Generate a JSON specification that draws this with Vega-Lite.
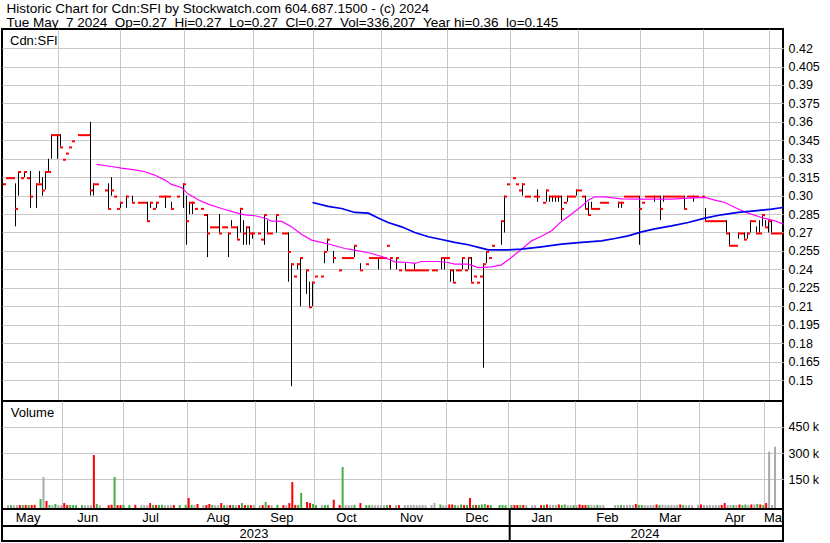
{
"$schema": "https://vega.github.io/schema/vega-lite/v6.json",
"padding": {"left": 1, "top": 2, "right": 0, "bottom": 0},
"background": "white",
"bounds": "flush",
"title": {"text": ["Historic Chart for Cdn:SFI by Stockwatch.com 604.687.1500 - (c) 2024", "Tue May \u00a07 2024 \u00a0Op=0.27 \u00a0Hi=0.27 \u00a0Lo=0.27 \u00a0Cl=0.27 \u00a0Vol=336,207 \u00a0Year hi=0.36 \u00a0lo=0.145"], "anchor": "start", "frame": "group", "font": "Liberation Sans", "fontSize": 13.5, "fontWeight": "normal", "color": "#000", "lineHeight": 14.4, "offset": -2, "dx": 4.5},
"spacing": 0,
"config": {
  "view": {"stroke": "#000", "strokeWidth": 2},
  "axis": {"labelFont": "Liberation Sans", "labelFontSize": 12.5, "labelColor": "#000", "gridColor": "#c8c8c8", "gridOpacity": 1, "gridWidth": 1, "ticks": false, "domain": false, "labelOverlap": false},
  "text": {"font": "Liberation Sans", "fontSize": 13, "color": "#000"}
},
"datasets": {
"days": [
{"i":0,"c":0.31,"v":1500,"d":"flat"},
{"i":1,"c":0.315,"v":2500,"d":"up"},
{"i":2,"c":0.315,"v":1500,"d":"flat"},
{"i":3,"c":0.315,"v":1500,"d":"flat"},
{"i":4,"c":0.29,"h":0.31,"l":0.275,"v":2500,"d":"down"},
{"i":5,"c":0.32,"h":0.32,"l":0.30,"v":2500,"d":"up"},
{"i":6,"c":0.315,"v":2500,"d":"down"},
{"i":7,"c":0.32,"h":0.32,"l":0.315,"v":2500,"d":"up"},
{"i":8,"c":0.315,"v":2500,"d":"down"},
{"i":9,"c":0.30,"h":0.32,"l":0.29,"v":4000,"d":"down"},
{"i":11,"c":0.31,"h":0.31,"l":0.29,"v":37000,"d":"up"},
{"i":12,"c":0.31,"h":0.32,"l":0.31,"v":163000,"d":"flat"},
{"i":13,"c":0.305,"h":0.315,"l":0.30,"v":26000,"d":"down"},
{"i":14,"c":0.32,"h":0.32,"l":0.305,"v":3000,"d":"up"},
{"i":15,"c":0.32,"h":0.33,"l":0.32,"v":3000,"d":"flat"},
{"i":16,"c":0.35,"h":0.35,"l":0.33,"v":8600,"d":"up"},
{"i":17,"c":0.35,"v":1500,"d":"flat"},
{"i":18,"c":0.35,"h":0.35,"l":0.33,"v":1500,"d":"flat"},
{"i":19,"c":0.34,"h":0.35,"l":0.34,"v":14000,"d":"down"},
{"i":20,"c":0.33,"v":3000,"d":"down"},
{"i":21,"c":0.335,"v":2500,"d":"up"},
{"i":22,"c":0.34,"v":2500,"d":"up"},
{"i":23,"c":0.345,"v":2500,"d":"up"},
{"i":25,"c":0.35,"v":2500,"d":"up"},
{"i":26,"c":0.35,"v":1500,"d":"flat"},
{"i":27,"c":0.35,"v":1500,"d":"flat"},
{"i":28,"c":0.35,"v":1500,"d":"flat"},
{"i":29,"c":0.305,"h":0.36,"l":0.30,"v":289000,"d":"down"},
{"i":30,"c":0.31,"h":0.31,"l":0.30,"v":9000,"d":"up"},
{"i":31,"c":0.31,"v":1500,"d":"flat"},
{"i":34,"c":0.305,"v":2500,"d":"down"},
{"i":35,"c":0.29,"h":0.31,"l":0.29,"v":4000,"d":"down"},
{"i":36,"c":0.305,"h":0.315,"l":0.30,"v":163000,"d":"up"},
{"i":37,"c":0.30,"v":2500,"d":"down"},
{"i":38,"c":0.29,"v":2500,"d":"down"},
{"i":39,"c":0.295,"h":0.295,"l":0.29,"v":4000,"d":"up"},
{"i":41,"c":0.30,"h":0.30,"l":0.29,"v":2500,"d":"up"},
{"i":43,"c":0.295,"h":0.30,"l":0.295,"v":4000,"d":"down"},
{"i":45,"c":0.295,"v":1500,"d":"flat"},
{"i":46,"c":0.295,"v":1500,"d":"flat"},
{"i":47,"c":0.295,"v":1500,"d":"flat"},
{"i":48,"c":0.28,"h":0.295,"l":0.28,"v":14000,"d":"down"},
{"i":49,"c":0.295,"h":0.295,"l":0.29,"v":3000,"d":"up"},
{"i":50,"c":0.29,"v":2500,"d":"down"},
{"i":51,"c":0.295,"h":0.295,"l":0.29,"v":3000,"d":"up"},
{"i":52,"c":0.30,"v":4000,"d":"up"},
{"i":53,"c":0.30,"v":1500,"d":"flat"},
{"i":54,"c":0.30,"h":0.30,"l":0.29,"v":1500,"d":"flat"},
{"i":55,"c":0.30,"v":1500,"d":"flat"},
{"i":56,"c":0.29,"h":0.295,"l":0.29,"v":2500,"d":"down"},
{"i":58,"c":0.30,"v":2500,"d":"up"},
{"i":60,"c":0.31,"h":0.31,"l":0.29,"v":4000,"d":"up"},
{"i":61,"c":0.28,"h":0.30,"l":0.26,"v":43000,"d":"down"},
{"i":62,"c":0.295,"h":0.295,"l":0.285,"v":4000,"d":"up"},
{"i":63,"c":0.295,"h":0.295,"l":0.285,"v":1500,"d":"flat"},
{"i":64,"c":0.29,"v":9000,"d":"down"},
{"i":66,"c":0.29,"v":1500,"d":"flat"},
{"i":67,"c":0.285,"v":3000,"d":"down"},
{"i":68,"c":0.27,"h":0.285,"l":0.25,"v":9000,"d":"down"},
{"i":69,"c":0.275,"v":3000,"d":"up"},
{"i":70,"c":0.275,"v":1500,"d":"flat"},
{"i":71,"c":0.275,"v":1500,"d":"flat"},
{"i":72,"c":0.27,"h":0.285,"l":0.27,"v":14000,"d":"down"},
{"i":73,"c":0.275,"v":2500,"d":"up"},
{"i":74,"c":0.275,"v":1500,"d":"flat"},
{"i":75,"c":0.27,"h":0.27,"l":0.25,"v":3000,"d":"down"},
{"i":76,"c":0.275,"h":0.28,"l":0.275,"v":2500,"d":"up"},
{"i":77,"c":0.275,"v":1500,"d":"flat"},
{"i":78,"c":0.265,"h":0.275,"l":0.265,"v":2500,"d":"down"},
{"i":79,"c":0.29,"h":0.29,"l":0.27,"v":14000,"d":"up"},
{"i":80,"c":0.27,"h":0.28,"l":0.26,"v":3000,"d":"down"},
{"i":81,"c":0.275,"h":0.275,"l":0.26,"v":2500,"d":"up"},
{"i":82,"c":0.27,"h":0.275,"l":0.26,"v":2500,"d":"down"},
{"i":83,"c":0.27,"h":0.27,"l":0.265,"v":4000,"d":"flat"},
{"i":85,"c":0.27,"v":1500,"d":"flat"},
{"i":86,"c":0.265,"v":2500,"d":"down"},
{"i":87,"c":0.285,"h":0.285,"l":0.26,"v":20000,"d":"up"},
{"i":88,"c":0.27,"h":0.28,"l":0.27,"v":3000,"d":"down"},
{"i":89,"c":0.27,"v":1500,"d":"flat"},
{"i":91,"c":0.285,"h":0.285,"l":0.27,"v":4000,"d":"up"},
{"i":93,"c":0.27,"v":2500,"d":"down"},
{"i":94,"c":0.27,"v":1500,"d":"flat"},
{"i":95,"c":0.255,"h":0.27,"l":0.23,"v":14000,"d":"down"},
{"i":96,"c":0.245,"h":0.245,"l":0.145,"v":134000,"d":"down"},
{"i":97,"c":0.235,"v":3000,"d":"down"},
{"i":98,"c":0.245,"h":0.245,"l":0.24,"v":3000,"d":"up"},
{"i":99,"c":0.25,"h":0.25,"l":0.21,"v":72000,"d":"up"},
{"i":101,"c":0.24,"h":0.24,"l":0.22,"v":20000,"d":"down"},
{"i":102,"c":0.21,"h":0.23,"l":0.21,"v":14000,"d":"down"},
{"i":103,"c":0.23,"h":0.23,"l":0.21,"v":9000,"d":"up"},
{"i":104,"c":0.235,"v":2500,"d":"up"},
{"i":106,"c":0.235,"v":1500,"d":"flat"},
{"i":107,"c":0.255,"h":0.255,"l":0.245,"v":3000,"d":"up"},
{"i":108,"c":0.265,"h":0.265,"l":0.255,"v":3000,"d":"up"},
{"i":110,"c":0.25,"h":0.255,"l":0.245,"v":33000,"d":"down"},
{"i":112,"c":0.24,"v":3000,"d":"down"},
{"i":113,"c":0.25,"v":220000,"d":"up"},
{"i":114,"c":0.25,"v":1500,"d":"flat"},
{"i":115,"c":0.25,"v":1500,"d":"flat"},
{"i":116,"c":0.25,"v":1500,"d":"flat"},
{"i":117,"c":0.26,"h":0.26,"l":0.25,"v":4000,"d":"up"},
{"i":119,"c":0.24,"h":0.245,"l":0.24,"v":14000,"d":"down"},
{"i":121,"c":0.245,"v":2500,"d":"up"},
{"i":122,"c":0.25,"v":2500,"d":"up"},
{"i":123,"c":0.25,"v":1500,"d":"flat"},
{"i":124,"c":0.25,"v":1500,"d":"flat"},
{"i":125,"c":0.25,"h":0.25,"l":0.24,"v":1500,"d":"flat"},
{"i":126,"c":0.25,"v":1500,"d":"flat"},
{"i":127,"c":0.25,"v":1500,"d":"flat"},
{"i":128,"c":0.26,"v":2500,"d":"up"},
{"i":129,"c":0.25,"h":0.25,"l":0.24,"v":3000,"d":"down"},
{"i":131,"c":0.25,"h":0.25,"l":0.24,"v":3000,"d":"flat"},
{"i":132,"c":0.24,"v":2500,"d":"down"},
{"i":134,"c":0.24,"h":0.245,"l":0.24,"v":3000,"d":"flat"},
{"i":135,"c":0.24,"v":3000,"d":"flat"},
{"i":136,"c":0.24,"v":3000,"d":"flat"},
{"i":137,"c":0.24,"h":0.245,"l":0.24,"v":3000,"d":"flat"},
{"i":138,"c":0.24,"v":1500,"d":"flat"},
{"i":139,"c":0.24,"v":1500,"d":"flat"},
{"i":140,"c":0.24,"v":3000,"d":"flat"},
{"i":141,"c":0.24,"v":1500,"d":"flat"},
{"i":143,"c":0.24,"v":3000,"d":"flat"},
{"i":144,"c":0.24,"v":14000,"d":"flat"},
{"i":146,"c":0.25,"h":0.25,"l":0.24,"v":6000,"d":"up"},
{"i":147,"c":0.25,"h":0.25,"l":0.24,"v":1500,"d":"flat"},
{"i":148,"c":0.25,"v":1500,"d":"flat"},
{"i":149,"c":0.24,"h":0.24,"l":0.23,"v":6000,"d":"down"},
{"i":150,"c":0.23,"h":0.24,"l":0.23,"v":6000,"d":"down"},
{"i":151,"c":0.24,"v":3000,"d":"up"},
{"i":152,"c":0.24,"v":1500,"d":"flat"},
{"i":153,"c":0.25,"h":0.25,"l":0.24,"v":6000,"d":"up"},
{"i":154,"c":0.24,"v":3000,"d":"down"},
{"i":155,"c":0.25,"h":0.25,"l":0.24,"v":3000,"d":"up"},
{"i":156,"c":0.23,"h":0.25,"l":0.23,"v":43000,"d":"down"},
{"i":157,"c":0.235,"v":3000,"d":"up"},
{"i":158,"c":0.23,"v":2500,"d":"down"},
{"i":159,"c":0.235,"v":3000,"d":"up"},
{"i":160,"c":0.245,"h":0.245,"l":0.16,"v":6000,"d":"up"},
{"i":161,"c":0.255,"h":0.255,"l":0.245,"v":9000,"d":"up"},
{"i":162,"c":0.25,"v":3000,"d":"down"},
{"i":163,"c":0.26,"v":2500,"d":"up"},
{"i":166,"c":0.28,"h":0.28,"l":0.26,"v":3000,"d":"up"},
{"i":167,"c":0.30,"h":0.30,"l":0.27,"v":3000,"d":"up"},
{"i":168,"c":0.31,"v":2500,"d":"up"},
{"i":170,"c":0.315,"v":2500,"d":"up"},
{"i":171,"c":0.31,"v":3000,"d":"down"},
{"i":172,"c":0.305,"v":3000,"d":"down"},
{"i":173,"c":0.31,"h":0.31,"l":0.30,"v":2500,"d":"up"},
{"i":174,"c":0.30,"v":3000,"d":"down"},
{"i":175,"c":0.30,"v":1500,"d":"flat"},
{"i":177,"c":0.30,"v":1500,"d":"flat"},
{"i":178,"c":0.30,"h":0.305,"l":0.295,"v":3000,"d":"flat"},
{"i":180,"c":0.295,"v":2500,"d":"down"},
{"i":181,"c":0.305,"h":0.305,"l":0.295,"v":3000,"d":"up"},
{"i":182,"c":0.30,"h":0.30,"l":0.295,"v":6000,"d":"down"},
{"i":183,"c":0.30,"h":0.30,"l":0.295,"v":3000,"d":"flat"},
{"i":184,"c":0.30,"h":0.30,"l":0.295,"v":3000,"d":"flat"},
{"i":185,"c":0.30,"h":0.30,"l":0.295,"v":3000,"d":"flat"},
{"i":186,"c":0.29,"h":0.30,"l":0.28,"v":6000,"d":"down"},
{"i":187,"c":0.295,"v":3000,"d":"up"},
{"i":188,"c":0.30,"h":0.30,"l":0.295,"v":6000,"d":"up"},
{"i":189,"c":0.30,"v":1500,"d":"flat"},
{"i":190,"c":0.30,"v":1500,"d":"flat"},
{"i":191,"c":0.305,"h":0.305,"l":0.30,"v":3000,"d":"up"},
{"i":192,"c":0.305,"v":1500,"d":"flat"},
{"i":193,"c":0.30,"v":6000,"d":"down"},
{"i":194,"c":0.29,"h":0.30,"l":0.29,"v":3000,"d":"down"},
{"i":195,"c":0.285,"h":0.295,"l":0.285,"v":3000,"d":"down"},
{"i":196,"c":0.29,"h":0.295,"l":0.29,"v":3000,"d":"up"},
{"i":197,"c":0.29,"v":1500,"d":"flat"},
{"i":198,"c":0.29,"v":1500,"d":"flat"},
{"i":199,"c":0.295,"v":3000,"d":"up"},
{"i":200,"c":0.295,"v":1500,"d":"flat"},
{"i":201,"c":0.295,"v":1500,"d":"flat"},
{"i":205,"c":0.295,"h":0.295,"l":0.29,"v":3000,"d":"flat"},
{"i":206,"c":0.295,"h":0.295,"l":0.29,"v":3000,"d":"flat"},
{"i":207,"c":0.30,"v":3000,"d":"up"},
{"i":208,"c":0.30,"v":3000,"d":"flat"},
{"i":209,"c":0.30,"v":3000,"d":"flat"},
{"i":210,"c":0.30,"v":3000,"d":"flat"},
{"i":211,"c":0.30,"v":3000,"d":"flat"},
{"i":212,"c":0.29,"h":0.30,"l":0.26,"v":9000,"d":"down"},
{"i":213,"c":0.295,"v":3000,"d":"up"},
{"i":214,"c":0.30,"v":3000,"d":"up"},
{"i":215,"c":0.30,"v":3000,"d":"flat"},
{"i":216,"c":0.30,"v":1500,"d":"flat"},
{"i":217,"c":0.30,"h":0.30,"l":0.295,"v":3000,"d":"flat"},
{"i":218,"c":0.30,"v":3000,"d":"flat"},
{"i":219,"c":0.29,"h":0.30,"l":0.28,"v":6000,"d":"down"},
{"i":220,"c":0.30,"h":0.30,"l":0.295,"v":3000,"d":"up"},
{"i":221,"c":0.30,"v":3000,"d":"flat"},
{"i":222,"c":0.30,"v":1500,"d":"flat"},
{"i":223,"c":0.30,"v":3000,"d":"flat"},
{"i":224,"c":0.30,"v":3000,"d":"flat"},
{"i":225,"c":0.30,"v":1500,"d":"flat"},
{"i":226,"c":0.30,"v":3000,"d":"flat"},
{"i":227,"c":0.29,"h":0.30,"l":0.29,"v":6000,"d":"down"},
{"i":228,"c":0.30,"v":3000,"d":"up"},
{"i":229,"c":0.30,"v":1500,"d":"flat"},
{"i":230,"c":0.30,"h":0.30,"l":0.295,"v":3000,"d":"flat"},
{"i":231,"c":0.30,"v":1500,"d":"flat"},
{"i":233,"c":0.30,"v":3000,"d":"flat"},
{"i":234,"c":0.28,"h":0.29,"l":0.28,"v":6000,"d":"down"},
{"i":235,"c":0.28,"v":3000,"d":"flat"},
{"i":236,"c":0.28,"v":1500,"d":"flat"},
{"i":237,"c":0.28,"v":3000,"d":"flat"},
{"i":238,"c":0.28,"v":1500,"d":"flat"},
{"i":239,"c":0.28,"v":3000,"d":"flat"},
{"i":240,"c":0.28,"v":3000,"d":"flat"},
{"i":241,"c":0.27,"h":0.28,"l":0.27,"v":3000,"d":"down"},
{"i":242,"c":0.26,"h":0.27,"l":0.26,"v":14000,"d":"down"},
{"i":243,"c":0.26,"v":1500,"d":"flat"},
{"i":244,"c":0.26,"v":3000,"d":"flat"},
{"i":245,"c":0.27,"h":0.27,"l":0.265,"v":3000,"d":"up"},
{"i":246,"c":0.27,"v":3000,"d":"flat"},
{"i":247,"c":0.265,"h":0.27,"l":0.265,"v":6000,"d":"down"},
{"i":248,"c":0.27,"h":0.27,"l":0.265,"v":3000,"d":"up"},
{"i":249,"c":0.28,"h":0.28,"l":0.27,"v":6000,"d":"up"},
{"i":250,"c":0.28,"v":3000,"d":"flat"},
{"i":251,"c":0.27,"h":0.275,"l":0.27,"v":6000,"d":"down"},
{"i":252,"c":0.27,"h":0.28,"l":0.27,"v":6000,"d":"flat"},
{"i":253,"c":0.285,"h":0.285,"l":0.275,"v":9000,"d":"up"},
{"i":254,"c":0.275,"h":0.28,"l":0.275,"v":6000,"d":"down"},
{"i":255,"c":0.28,"h":0.28,"l":0.27,"v":3000,"d":"up"},
{"i":256,"c":0.27,"h":0.28,"l":0.27,"v":14000,"d":"down"},
{"i":257,"c":0.27,"v":308000,"d":"flat"},
{"i":258,"c":0.27,"v":3000,"d":"flat"},
{"i":259,"c":0.27,"v":336207,"d":"flat"}
],
"ma1": [
{"i":31,"p":0.3254},{"i":36,"p":0.3237},{"i":39.3,"p":0.3224},{"i":43.8,"p":0.321},{"i":47.1,"p":0.3194},{"i":50.4,"p":0.3167},{"i":53.8,"p":0.3126},{"i":56,"p":0.3091},{"i":59.3,"p":0.3066},{"i":61.6,"p":0.3012},{"i":64.9,"p":0.2966},{"i":68.2,"p":0.2931},{"i":72.7,"p":0.2895},{"i":77.1,"p":0.2863},{"i":80.4,"p":0.2844},{"i":83.8,"p":0.2836},{"i":87.7,"p":0.2814},{"i":89.3,"p":0.2792},{"i":92.7,"p":0.279},{"i":96,"p":0.2746},{"i":99.3,"p":0.2686},{"i":102.7,"p":0.2638},{"i":106,"p":0.2619},{"i":109.3,"p":0.26},{"i":113.8,"p":0.257},{"i":117.1,"p":0.2556},{"i":122.7,"p":0.2529},{"i":127.1,"p":0.2497},{"i":130.4,"p":0.2461},{"i":134.9,"p":0.2456},{"i":137.1,"p":0.2448},{"i":139.3,"p":0.2464},{"i":144.9,"p":0.2464},{"i":148.2,"p":0.2456},{"i":150.4,"p":0.2442},{"i":154.9,"p":0.2442},{"i":158.2,"p":0.2415},{"i":162.7,"p":0.2421},{"i":166,"p":0.2437},{"i":169.3,"p":0.2497},{"i":172.7,"p":0.2564},{"i":176,"p":0.2632},{"i":179.3,"p":0.267},{"i":182.7,"p":0.2714},{"i":186,"p":0.279},{"i":189.3,"p":0.2849},{"i":192.7,"p":0.2914},{"i":194.9,"p":0.2963},{"i":197.1,"p":0.299},{"i":200.4,"p":0.299},{"i":206,"p":0.2974},{"i":211.6,"p":0.2971},{"i":217.1,"p":0.2971},{"i":222.7,"p":0.2971},{"i":228.2,"p":0.298},{"i":233.8,"p":0.2985},{"i":237.1,"p":0.2963},{"i":240.4,"p":0.2944},{"i":243.8,"p":0.2903},{"i":248.2,"p":0.2857},{"i":252.7,"p":0.2822},{"i":257.1,"p":0.2795},{"i":259.9,"p":0.2768}
],
"ma2": [
{"i":103,"p":0.2944},{"i":108.2,"p":0.2912},{"i":112.7,"p":0.2895},{"i":117.1,"p":0.2863},{"i":121.6,"p":0.2857},{"i":124.9,"p":0.2817},{"i":128.2,"p":0.2781},{"i":132.7,"p":0.2746},{"i":137.1,"p":0.27},{"i":141.6,"p":0.2665},{"i":146,"p":0.2643},{"i":150.4,"p":0.2619},{"i":154.9,"p":0.26},{"i":159.3,"p":0.2573},{"i":161.6,"p":0.2559},{"i":168.2,"p":0.2559},{"i":172.7,"p":0.2564},{"i":179.3,"p":0.2583},{"i":186,"p":0.2605},{"i":192.7,"p":0.2619},{"i":199.3,"p":0.2632},{"i":203.8,"p":0.2651},{"i":208.2,"p":0.2673},{"i":212.7,"p":0.2705},{"i":217.1,"p":0.273},{"i":222.7,"p":0.2754},{"i":228.2,"p":0.2781},{"i":233.8,"p":0.2817},{"i":239.3,"p":0.2844},{"i":244.9,"p":0.2863},{"i":250.4,"p":0.2876},{"i":256,"p":0.289},{"i":259.8,"p":0.2903}
],
"months": [
{"m":"May","c":8.2},{"m":"Jun","c":28.1},{"m":"Jul","c":49},{"m":"Aug","c":71.6},{"m":"Sep","c":92.8},{"m":"Oct","c":114.3},{"m":"Nov","c":136},{"m":"Dec","c":157.8},{"m":"Jan","c":179.5},{"m":"Feb","c":201.3},{"m":"Mar","c":222.2},{"m":"Apr","c":243.8},{"m":"May","c":257.6}
],
"years": [{"y":"2023","c":83.5},{"y":"2024","c":213.8}]
},
"vconcat": [
{
 "width": 781, "height": 372,
 "encoding": {"x": {"field": "i", "type": "quantitative", "scale": {"domain": [-0.5, 259.8333], "nice": false, "zero": false},
   "axis": {"values": [18.07, 38.83, 60.27, 83.27, 103.07, 125.93, 147.73, 168.73, 191.4, 212.27, 233.07, 255.07], "tickCount": 50, "grid": true, "labels": false, "title": null}}},
 "layer": [
  {"data": {"name": "days"}, "mark": {"type": "rule", "color": "#000", "strokeWidth": 1},
   "encoding": {"y": {"field": "h", "type": "quantitative", "scale": {"domain": [0.13292, 0.43553], "nice": false, "zero": false},
      "axis": {"orient": "right", "grid": true, "labelPadding": 5, "labelOverlap": false, "tickCount": 50, "values": [0.15,0.165,0.18,0.195,0.21,0.225,0.24,0.255,0.27,0.285,0.30,0.315,0.33,0.345,0.36,0.375,0.39,0.405,0.42],
        "labelExpr": "format(datum.value, round(datum.value*1000) % 10 == 0 ? '.2f' : '.3f')",
        "title": "Cdn:SFI", "titleX": -773.5, "titleY": 15.7, "titleAngle": 0, "titleAlign": "left", "titleBaseline": "alphabetic", "titleFont": "Liberation Sans", "titleFontSize": 13, "titleFontWeight": "normal", "titleColor": "#000"}},
    "y2": {"field": "l"}}},
  {"data": {"name": "days"}, "mark": {"type": "tick", "orient": "horizontal", "color": "#ff0000", "size": 3, "thickness": 2, "xOffset": 1, "yOffset": 1, "opacity": 1},
   "encoding": {"y": {"field": "c", "type": "quantitative"}}},
  {"data": {"name": "ma1"}, "mark": {"type": "line", "color": "#ff00ff", "strokeWidth": 1.2},
   "encoding": {"y": {"field": "p", "type": "quantitative"}}},
  {"data": {"name": "ma2"}, "mark": {"type": "line", "color": "#0000ee", "strokeWidth": 1.7},
   "encoding": {"y": {"field": "p", "type": "quantitative"}}}
 ]
},
{
 "width": 781, "height": 108,
 "encoding": {"x": {"field": "i", "type": "quantitative", "scale": {"domain": [-0.5, 259.8333], "nice": false, "zero": false},
   "axis": {"values": [18.07, 38.83, 60.27, 83.27, 103.07, 125.93, 147.73, 168.73, 191.4, 212.27, 233.07, 255.07], "tickCount": 50, "grid": true, "labels": false, "title": null}}},
 "layer": [
  {"data": {"name": "days"}, "mark": {"type": "bar", "width": 2, "xOffset": -0.5},
   "encoding": {
     "y": {"field": "v", "type": "quantitative", "scale": {"domain": [-20000, 598000], "nice": false, "zero": false},
       "axis": {"orient": "right", "grid": true, "labelPadding": 5, "labelOverlap": false, "tickCount": 20, "values": [150000, 300000, 450000], "labelExpr": "format(datum.value/1000, 'd') + ' k'",
         "title": "Volume", "titleX": -772.7, "titleY": 15.3, "titleAngle": 0, "titleAlign": "left", "titleBaseline": "alphabetic", "titleFont": "Liberation Sans", "titleFontSize": 13, "titleFontWeight": "normal", "titleColor": "#000"}},
     "y2": {"datum": -16000},
     "color": {"field": "d", "type": "nominal", "scale": {"domain": ["up", "down", "flat"], "range": ["#44b044", "#ff0000", "#aaaaaa"]}, "legend": null}}}
 ]
},
{
 "width": 781, "height": 17,
 "layer": [
  {"data": {"name": "months"}, "mark": {"type": "text", "align": "center", "baseline": "alphabetic", "dy": 4.5, "fontSize": 13, "clip": true},
   "encoding": {"x": {"field": "c", "type": "quantitative", "scale": {"domain": [-0.5, 259.8333], "nice": false, "zero": false}, "axis": null}, "text": {"field": "m"}}},
  {"data": {"values": [{}]}, "mark": {"type": "rule", "color": "#000", "strokeWidth": 2},
   "encoding": {"x": {"datum": 168.73}}}
 ]
},
{
 "width": 781, "height": 15,
 "layer": [
  {"data": {"name": "years"}, "mark": {"type": "text", "align": "center", "baseline": "alphabetic", "dy": 4.5, "fontSize": 13},
   "encoding": {"x": {"field": "c", "type": "quantitative", "scale": {"domain": [-0.5, 259.8333], "nice": false, "zero": false}, "axis": null}, "text": {"field": "y"}}},
  {"data": {"values": [{}]}, "mark": {"type": "rule", "color": "#000", "strokeWidth": 2},
   "encoding": {"x": {"datum": 168.73}}}
 ]
}
]
}
